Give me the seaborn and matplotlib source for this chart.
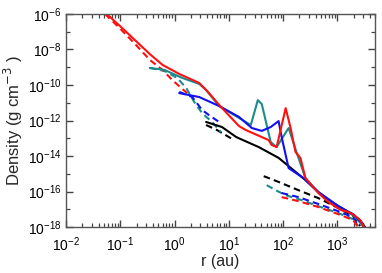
import numpy as np
import pandas as pd
import seaborn as sns
import matplotlib.pyplot as plt
from matplotlib.ticker import LogLocator, NullFormatter

# solid lines
r_red = [0.056, 0.10, 0.35, 0.60, 1.22, 2.85, 3.99, 7.19, 15.4, 20.7, 54.5, 61.8, 76.3, 112, 138, 170, 210, 259, 449, 684, 1183, 1589, 2047, 2637, 3124]
rho_red = [1e-6, 2.0e-7, 5.5e-9, 1.35e-9, 4.2e-10, 1.3e-10, 4.6e-11, 5.8e-12, 4.9e-13, 2.9e-13, 7.9e-14, 4.2e-14, 3.2e-14, 5.0e-12, 3.8e-13, 1.7e-14, 7.8e-15, 5.8e-16, 8.3e-17, 2.6e-17, 9.1e-18, 7.1e-18, 4.8e-18, 2.5e-18, 1e-18]

r_blue = [1.22, 2.85, 6.62, 15.4, 26.6, 40.6, 59.3, 83.0, 94.3, 127, 238, 449, 1043, 1963, 2754, 3124]
rho_blue = [3.5e-11, 2.1e-11, 6.6e-12, 1.6e-12, 3.8e-13, 2.6e-13, 4.3e-13, 9.3e-13, 1.2e-13, 2.1e-15, 5.8e-16, 9.3e-17, 1.5e-17, 5.4e-18, 1.9e-18, 1e-18]

r_teal = [0.35, 0.65, 1.39, 2.85, 3.82, 6.62, 25.5, 34.3, 40.6, 59.3, 76.3, 127, 177, 259, 449, 1043, 1963, 3124]
rho_teal = [9.1e-10, 7.1e-10, 2.5e-10, 1.15e-10, 5.2e-11, 6.6e-12, 5.6e-13, 1.4e-11, 8.5e-12, 6.2e-14, 3.2e-14, 3.8e-13, 1.7e-14, 5.8e-16, 9.3e-17, 1.5e-17, 4.8e-18, 1e-18]

r_black = [3.82, 7.5, 13.6, 15.4, 35.7, 83.0, 259, 449, 918, 1963, 2637, 3257]
rho_black = [8.3e-13, 4.3e-13, 1.2e-13, 1.0e-13, 3.2e-14, 7.9e-15, 4.5e-16, 9.3e-17, 2.0e-17, 4.8e-18, 2.5e-18, 1e-18]

# dashed lines (two pieces each)
r_red_d1 = [0.052, 0.097, 0.18, 0.35, 0.60, 0.91, 1.39, 1.71]
rho_red_d1 = [1e-6, 1.6e-7, 2.3e-8, 2.6e-9, 7.0e-10, 1.9e-10, 6.0e-11, 3.5e-11]
r_red_d2 = [94.3, 193, 449, 1043, 1963, 2425]
rho_red_d2 = [4.9e-17, 2.9e-17, 1.35e-17, 5.4e-18, 2.5e-18, 1e-18]

r_blue_d1 = [1.22, 2.12, 3.23, 4.34, 6.62]
rho_blue_d1 = [4.1e-11, 2.1e-11, 3.9e-12, 2.0e-12, 8.3e-13]
r_blue_d2 = [94.3, 193, 449, 1043, 1963, 2425]
rho_blue_d2 = [8.3e-17, 4.9e-17, 2.0e-17, 7.9e-18, 3.6e-18, 1.15e-18]

r_teal_d1 = [0.35, 0.65, 1.12, 1.64, 2.31, 3.23, 4.92, 7.19]
rho_teal_d1 = [9.1e-10, 6.2e-10, 2.5e-10, 6.8e-11, 1.1e-11, 2.6e-12, 8.3e-13, 2.2e-13]
r_teal_d2 = [50.1, 73.2, 112, 193, 449, 1043, 1963, 2425]
rho_teal_d2 = [2.3e-16, 1.2e-16, 6.3e-17, 3.8e-17, 1.5e-17, 6.2e-18, 2.8e-18, 1.15e-18]

r_black_d1 = [3.82, 6.08, 11.0]
rho_black_d1 = [5.6e-13, 2.9e-13, 1.0e-13]
r_black_d2 = [44.1, 83.0, 193, 449, 1043, 1963, 2637]
rho_black_d2 = [7.4e-16, 3.5e-16, 1.2e-16, 4.3e-17, 1.2e-17, 4.2e-18, 1.15e-18]

red = '#ff1010'
blue = '#1010f0'
teal = '#1a8c8c'
black = '#000000'

sns.set_style('ticks')
plt.rcParams['font.family'] = ['Liberation Sans', 'DejaVu Sans']

fig = plt.figure(figsize=(3.82, 2.73), dpi=100)
ax = fig.add_axes([0.173, 0.168, 0.809, 0.781])

lw = 1.5
dash = (3.2, 2.0)

# dashed first so the solid lines sit on top
for rr, yy, c in [(r_black_d1, rho_black_d1, black), (r_black_d2, rho_black_d2, black),
                  (r_teal_d1, rho_teal_d1, teal), (r_teal_d2, rho_teal_d2, teal),
                  (r_blue_d1, rho_blue_d1, blue), (r_blue_d2, rho_blue_d2, blue),
                  (r_red_d1, rho_red_d1, red), (r_red_d2, rho_red_d2, red)]:
    sns.lineplot(x=rr, y=yy, color=c, lw=lw, linestyle=(0, dash), ax=ax)

for rr, yy, c in [(r_black, rho_black, black), (r_teal, rho_teal, teal),
                  (r_blue, rho_blue, blue), (r_red, rho_red, red)]:
    sns.lineplot(x=rr, y=yy, color=c, lw=lw, ax=ax)

ax.set_xscale('log')
ax.set_yscale('log')
ax.set_xlim(1e-2, 5e3)
ax.set_ylim(1e-18, 1e-6)

ax.set_yticks([10.0**k for k in range(-18, -5, 2)])
ax.set_yticks([10.0**k for k in range(-17, -5, 2)], minor=True)
ax.yaxis.set_minor_formatter(NullFormatter())
ax.xaxis.set_major_locator(LogLocator(base=10, numticks=10))
ax.xaxis.set_minor_locator(LogLocator(base=10, subs=np.arange(2, 10), numticks=10))
ax.xaxis.set_minor_formatter(NullFormatter())

ax.tick_params(which='both', direction='in', top=True, right=True, color='#444444',
               labelcolor='black', labelsize=10, length=5, width=1.0)
ax.tick_params(which='minor', length=3, width=0.9)
ax.tick_params(axis='x', which='major', pad=6)
for s in ax.spines.values():
    s.set_color('#555555')
    s.set_linewidth(1.0)

ax.set_xlabel('r (au)', fontsize=11.5, labelpad=0)
ax.set_ylabel('Density (g cm$^{-3}$ )', fontsize=12, labelpad=2)

fig.savefig('out.png', dpi=100)
